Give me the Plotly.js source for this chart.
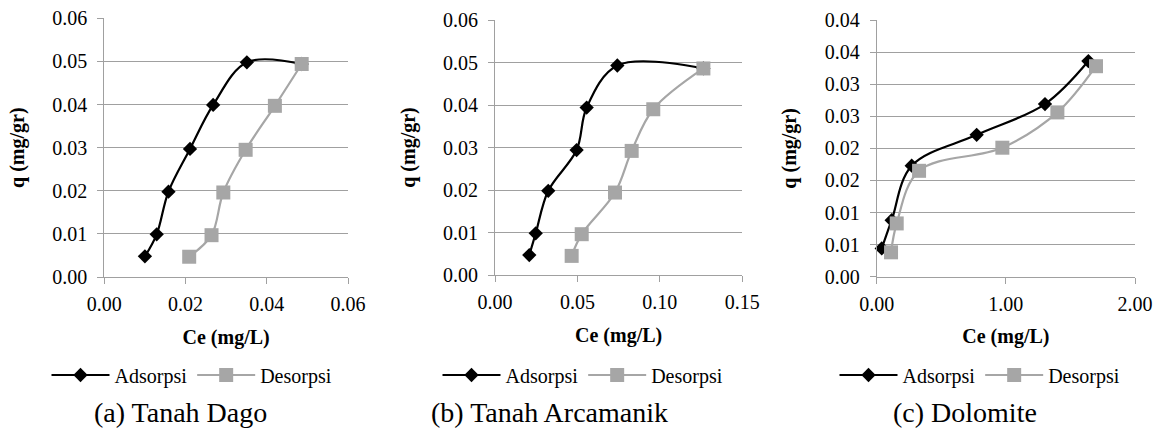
<!DOCTYPE html>
<html>
<head>
<meta charset="utf-8">
<script src="https://cdn.plot.ly/plotly-3.0.1.min.js"></script>
<style>
html,body{margin:0;padding:0;background:#fff}
#plotdiv svg text, #plotdiv svg tspan { font-family: 'Liberation Serif', 'Times New Roman', serif !important; }
</style>
</head>
<body>
<div id="plotdiv" style="width:1159px;height:428px"></div>
<script>
// Panel (a) Tanah Dago (Adsorpsi curve ends at the last Desorpsi point)
const dagoAdsX = [0.0100, 0.0129, 0.0158, 0.0211, 0.0268, 0.0351, 0.0486];
const dagoAdsY = [0.0048, 0.0099, 0.0198, 0.0297, 0.0399, 0.0498, 0.0494];
const dagoDesX = [0.0209, 0.0264, 0.0293, 0.0348, 0.0420, 0.0486];
const dagoDesY = [0.0047, 0.0097, 0.0196, 0.0295, 0.0397, 0.0494];
// Panel (b) Tanah Arcamanik
const arcAdsX = [0.0208, 0.0247, 0.0323, 0.0495, 0.0556, 0.0742, 0.1264];
const arcAdsY = [0.0047, 0.0098, 0.0198, 0.0294, 0.0394, 0.0493, 0.0486];
const arcDesX = [0.0465, 0.0526, 0.0728, 0.0829, 0.0960, 0.1264];
const arcDesY = [0.0045, 0.0096, 0.0194, 0.0292, 0.0390, 0.0486];
// Panel (c) Dolomite
const dolAdsX = [0.039, 0.116, 0.271, 0.774, 1.303, 1.639];
const dolAdsY = [0.0044, 0.0088, 0.0173, 0.0221, 0.0269, 0.0336];
const dolDesX = [0.111, 0.155, 0.328, 0.973, 1.399, 1.698];
const dolDesY = [0.0038, 0.0083, 0.0165, 0.0201, 0.0256, 0.0328];
// Dolomite y tick labels (as printed, 2 decimals)
const dolTickVals = [0, 0.005, 0.01, 0.015, 0.02, 0.025, 0.03, 0.035, 0.04];
const dolTickText = ['0.00','0.01','0.01','0.02','0.02','0.03','0.03','0.04','0.04'];

const seriesNames = ['Adsorpsi', 'Desorpsi'];
const subtitles = ['(a) Tanah Dago', '(b) Tanah Arcamanik', '(c) Dolomite'];

{
  const F = 'Liberation Serif';
  const GRID = '#a0a0a0';
  const BLACK = '#000000';
  const GRAY = '#a6a6a6';

  const mkAds = (x, y, xa, ya, lg) => ({x: x, y: y, xaxis: xa, yaxis: ya, legend: lg, name: seriesNames[0],
    type: 'scatter', mode: 'lines+markers', cliponaxis: false,
    line: {color: BLACK, width: 2.2, shape: 'spline', smoothing: 1},
    marker: {symbol: 'diamond', size: 11, color: BLACK}});
  const mkDes = (x, y, xa, ya, lg) => ({x: x, y: y, xaxis: xa, yaxis: ya, legend: lg, name: seriesNames[1],
    type: 'scatter', mode: 'lines+markers', cliponaxis: false,
    line: {color: GRAY, width: 2.2, shape: 'spline', smoothing: 1},
    marker: {symbol: 'square', size: 14, color: GRAY}});

  const traces = [
    mkAds(dagoAdsX, dagoAdsY, 'x', 'y', 'legend'),
    mkDes(dagoDesX, dagoDesY, 'x', 'y', 'legend'),
    mkAds(arcAdsX, arcAdsY, 'x2', 'y2', 'legend2'),
    mkDes(arcDesX, arcDesY, 'x2', 'y2', 'legend2'),
    mkAds(dolAdsX, dolAdsY, 'x3', 'y3', 'legend3'),
    mkDes(dolDesX, dolDesY, 'x3', 'y3', 'legend3')
  ];

  const mkX = (dom, range, dtick, anchor) => ({domain: dom, range: range, dtick: dtick, tick0: 0,
    tickformat: '.2f', anchor: anchor,
    showgrid: false, zeroline: false, showline: true, linecolor: GRID, linewidth: 1,
    ticks: 'outside', ticklen: 6, tickcolor: GRID, tickwidth: 1, ticklabelstandoff: 3,
    tickfont: {family: F, size: 20, color: '#000'},
    title: {text: '<b>Ce (mg/L)</b>', font: {family: F, size: 20, color: '#000'}, standoff: 15},
    fixedrange: true});
  const mkY = (dom, range, dtick, anchor) => ({domain: dom, range: range, dtick: dtick, tick0: 0,
    tickformat: '.2f', anchor: anchor,
    showgrid: true, gridcolor: GRID, gridwidth: 1, zeroline: false,
    showline: true, linecolor: GRID, linewidth: 1,
    ticks: 'outside', ticklen: 6, tickcolor: GRID, tickwidth: 1, ticklabelstandoff: 6,
    tickfont: {family: F, size: 20, color: '#000'},
    title: {text: '<b>q (mg/gr)</b>', font: {family: F, size: 20, color: '#000'}, standoff: 22},
    fixedrange: true});
  const mkLeg = (xc) => ({orientation: 'h', x: xc, xanchor: 'center', y: 1 - 375/428, yanchor: 'middle',
    font: {family: F, size: 20, color: '#000'}, bgcolor: 'rgba(0,0,0,0)',
    itemwidth: 58, tracegroupgap: 0});
  const mkSub = (txt, xc) => ({text: txt, x: xc, y: 1 - 412/428, xref: 'paper', yref: 'paper',
    showarrow: false, xanchor: 'center', yanchor: 'middle', font: {family: F, size: 28, color: '#000'}});

  const y3 = mkY([1 - 276.7/428, 1 - 20/428], [0, 0.04], 0.005, 'x3');
  y3.tickmode = 'array';
  y3.tickvals = dolTickVals;
  y3.ticktext = dolTickText;

  const lay = {
    width: 1159, height: 428,
    margin: {l: 0, r: 0, t: 0, b: 0},
    paper_bgcolor: '#fff', plot_bgcolor: '#fff',
    font: {family: F, color: '#000'},
    showlegend: true,
    xaxis: mkX([104.3/1159, 348/1159], [0, 0.06], 0.02, 'y'),
    yaxis: mkY([1 - 277/428, 1 - 18.3/428], [0, 0.06], 0.01, 'x'),
    xaxis2: mkX([495/1159, 742.3/1159], [0, 0.15], 0.05, 'y2'),
    yaxis2: mkY([1 - 275/428, 1 - 20/428], [0, 0.06], 0.01, 'x2'),
    xaxis3: mkX([876.7/1159, 1135/1159], [0, 2], 1, 'y3'),
    yaxis3: y3,
    legend: mkLeg(192/1159),
    legend2: mkLeg(583/1159),
    legend3: mkLeg(980/1159),
    annotations: [
      mkSub(subtitles[0], 180/1159),
      mkSub(subtitles[1], 549/1159),
      mkSub(subtitles[2], 965/1159)
    ]
  };

  Plotly.newPlot('plotdiv', traces, lay, {displayModeBar: false});
}
</script>
</body>
</html>
